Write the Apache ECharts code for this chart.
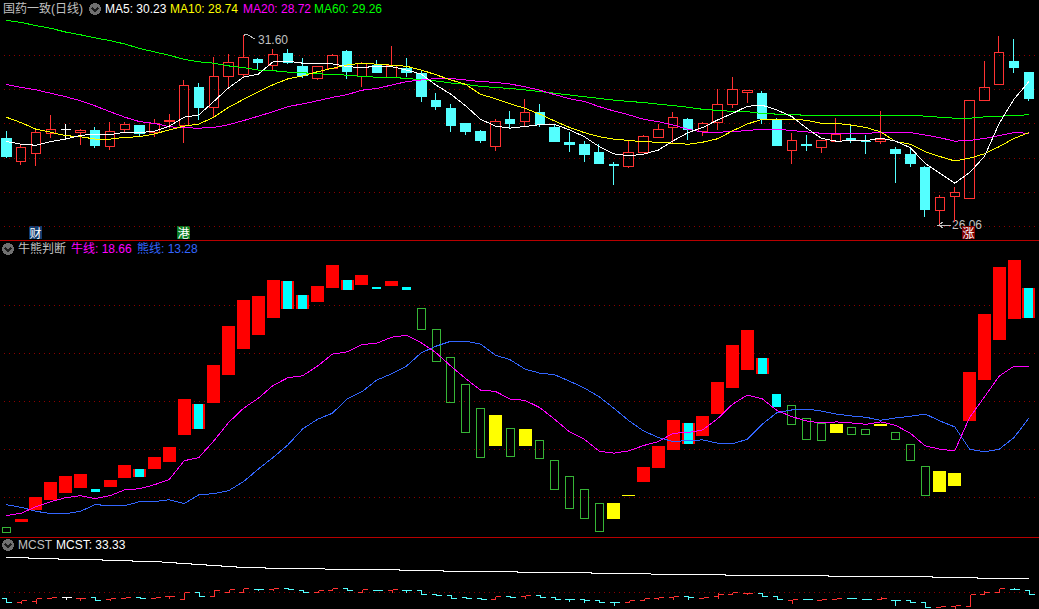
<!DOCTYPE html>
<html>
<head>
<meta charset="utf-8">
<title>国药一致</title>
<style>
html, body { margin: 0; padding: 0; background: #000; overflow: hidden; }
#chart { width: 1039px; height: 609px; }
/* 行情软件的线没有抗锯齿 */
#chart svg path { shape-rendering: crispEdges; }
</style>
<script src="https://cdn.jsdelivr.net/npm/echarts@6/dist/echarts.min.js"></script>
</head>
<body>
<div id="chart"></div>
<script>
// 日线 open / close / low / high
var candleOpen = [28.58,27.89,28.13,28.70,28.82,28.73,28.81,28.33,28.83,28.95,28.75,29.06,28.95,30.06,29.47,30.38,30.44,30.89,30.70,31.04,30.66,30.32,30.61,31.10,30.39,30.70,30.36,30.60,30.47,29.69,29.43,29.02,28.76,28.33,29.11,29.06,29.34,28.90,28.44,28.38,28.17,27.82,27.74,28.15,28.59,28.90,29.11,28.76,29.04,29.56,29.90,29.87,29.11,28.21,28.38,28.30,28.49,28.58,28.49,28.48,28.26,28.09,27.73,26.46,26.87,26.81,29.67,30.14,30.83,30.51];
var candleClose = [28.04,28.31,28.75,28.84,28.82,28.79,28.35,28.78,28.98,28.72,29.00,29.10,30.11,29.47,30.39,30.80,30.94,30.78,31.03,30.79,30.40,30.67,31.00,30.52,30.77,30.49,30.70,30.51,29.79,29.49,28.96,28.76,28.52,29.07,29.02,29.33,28.99,28.49,28.38,28.09,27.85,27.77,28.16,28.63,28.84,29.19,28.82,29.01,29.57,30.01,29.97,29.14,28.35,28.51,28.35,28.51,28.69,28.55,28.47,28.55,28.12,27.85,26.48,26.85,26.99,29.68,30.06,31.09,30.63,29.75];
var candleLow = [28.01,27.79,27.77,28.58,28.52,28.38,28.30,28.23,28.77,28.64,28.61,28.87,28.45,29.11,29.20,30.07,30.33,30.57,30.57,30.76,30.33,30.28,30.59,30.31,30.07,30.47,30.36,30.37,29.62,29.40,28.76,28.67,28.44,28.20,28.85,28.93,28.90,28.47,28.17,27.88,27.82,27.21,27.71,28.13,28.59,28.43,28.52,28.64,28.82,29.46,29.61,28.99,28.35,27.82,28.20,28.14,28.49,28.44,28.12,28.42,27.27,27.73,26.27,26.06,26.14,26.81,29.67,30.14,30.48,29.66];
var candleHigh = [28.79,28.38,28.82,29.25,28.99,28.85,28.90,29.05,29.06,28.95,29.13,29.28,30.28,30.18,30.95,31.03,31.60,30.93,31.18,31.18,30.91,30.69,31.04,31.15,30.81,30.86,31.27,30.92,30.55,29.90,29.58,29.02,28.82,29.14,29.37,29.72,29.58,28.99,28.76,28.49,28.41,27.88,28.51,28.67,28.98,29.34,29.17,29.05,30.02,30.37,29.97,29.96,29.17,28.73,28.67,28.51,29.17,28.96,28.67,29.37,28.32,28.30,27.77,26.92,27.15,29.68,30.83,31.57,31.48,30.51];

// 均线
var ma5 = [28.48,28.40,28.37,28.48,28.55,28.66,28.69,28.68,28.75,28.74,28.78,28.93,29.19,29.26,29.65,30.05,30.36,30.45,30.81,30.83,30.77,30.75,30.75,30.67,30.64,30.68,30.67,30.57,30.45,30.13,29.86,29.52,29.13,28.93,28.87,28.92,28.97,28.98,28.82,28.62,28.33,28.12,28.06,28.11,28.23,28.50,28.74,28.89,29.11,29.30,29.51,29.54,29.40,29.21,28.87,28.57,28.49,28.50,28.50,28.58,28.49,28.30,27.84,27.55,27.26,27.57,28.04,29.01,29.72,30.23];
var ma10 = [29.19,29.03,28.84,28.75,28.65,28.62,28.55,28.55,28.60,28.62,28.70,28.82,28.93,28.99,29.19,29.48,29.71,29.93,30.14,30.31,30.40,30.52,30.62,30.72,30.77,30.74,30.71,30.68,30.57,30.43,30.28,30.15,29.86,29.73,29.58,29.45,29.28,29.08,28.89,28.74,28.62,28.55,28.51,28.47,28.46,28.43,28.40,28.46,28.56,28.79,28.99,29.13,29.13,29.13,29.10,29.01,29.01,28.96,28.89,28.76,28.48,28.40,28.18,28.04,27.91,27.99,28.12,28.33,28.57,28.74];
var ma20 = [30.15,30.06,29.99,29.89,29.79,29.67,29.52,29.35,29.19,29.06,29.01,28.91,28.88,28.87,28.89,28.97,29.09,29.22,29.35,29.50,29.58,29.67,29.77,29.85,29.98,30.03,30.13,30.23,30.28,30.32,30.32,30.28,30.23,30.21,30.16,30.08,29.98,29.85,29.73,29.65,29.50,29.37,29.26,29.13,29.06,28.96,28.84,28.75,28.75,28.77,28.80,28.84,28.84,28.80,28.76,28.72,28.72,28.72,28.72,28.74,28.74,28.74,28.67,28.59,28.49,28.51,28.57,28.65,28.74,28.72];
var ma60 = [32.02,31.96,31.87,31.79,31.68,31.60,31.51,31.43,31.33,31.20,31.10,31.00,30.88,30.81,30.77,30.69,30.64,30.57,30.55,30.51,30.49,30.46,30.44,30.42,30.38,30.36,30.36,30.32,30.29,30.25,30.19,30.15,30.09,30.06,30.03,29.99,29.94,29.89,29.84,29.79,29.74,29.69,29.65,29.62,29.57,29.53,29.48,29.42,29.39,29.36,29.35,29.30,29.28,29.26,29.25,29.25,29.25,29.25,29.25,29.25,29.25,29.25,29.22,29.19,29.16,29.16,29.20,29.22,29.24,29.26];

// 牛熊判断: 柱子上下沿, 种类 r红 m红底青芯 c青 y黄 g绿空心
var boxTop = [2.00,2.76,5.03,6.59,7.21,7.42,5.87,6.80,8.35,7.94,9.18,10.22,15.29,14.78,18.82,22.86,25.55,25.97,27.63,27.52,26.07,27.00,29.18,27.63,28.14,26.90,27.52,26.90,24.69,22.51,19.61,16.81,14.33,13.64,12.25,12.18,11.01,8.94,7.27,5.93,4.48,4.41,5.24,8.14,10.42,13.12,12.81,13.53,17.05,20.89,22.44,19.54,15.81,14.64,13.29,12.77,12.70,12.36,12.15,12.70,11.84,10.60,8.32,7.73,7.52,18.09,24.10,28.97,29.70,26.80];
var boxBottom = [1.41,2.45,3.69,4.73,5.45,5.97,5.55,6.07,7.00,7.11,7.94,8.66,11.56,12.19,14.88,17.78,20.48,21.93,23.69,24.62,24.62,25.35,26.80,26.59,27.11,26.69,27.00,26.59,22.58,19.16,14.91,11.81,9.21,10.42,9.32,10.42,9.11,5.90,3.93,2.89,1.55,2.76,5.17,6.59,8.04,10.01,10.63,11.46,13.74,16.43,18.30,17.88,14.47,12.63,11.08,10.98,11.77,11.60,11.60,12.50,11.08,8.90,5.28,5.55,6.18,13.01,17.26,21.41,23.58,23.69];
var boxKind = ['g','r','r','r','r','r','c','r','r','m','r','r','r','m','r','r','r','r','r','m','m','r','r','m','r','c','r','c','g','g','g','g','g','y','g','y','g','g','g','g','g','y','y','r','r','r','m','r','r','r','r','m','c','g','g','g','y','g','g','y','g','g','g','y','y','r','r','r','r','m'];
var bullLine = [3.14,3.38,4.07,4.59,5.00,5.21,4.90,5.21,5.83,5.93,6.35,6.90,8.84,9.18,10.91,12.81,14.29,15.33,16.67,17.47,17.68,18.68,19.92,20.16,20.92,21.06,21.68,21.89,21.10,20.06,18.68,17.37,16.19,16.05,15.26,15.12,14.36,13.15,11.84,11.08,9.84,9.63,9.87,10.42,10.84,11.70,11.77,12.05,13.22,14.71,15.67,15.29,14.07,13.43,12.98,12.77,12.88,12.77,12.63,12.88,12.53,11.70,10.39,10.04,9.87,13.33,15.47,17.64,18.68,18.66];
var bearLine = [4.28,4.00,3.59,3.34,3.34,3.59,4.28,4.17,4.17,4.59,4.59,4.79,4.38,5.31,5.42,5.73,6.66,7.97,9.18,10.49,12.15,13.15,13.78,15.26,16.02,17.23,17.88,18.68,20.06,20.75,21.27,21.27,20.96,19.82,19.34,18.37,17.95,17.78,17.12,16.40,15.50,14.29,13.01,11.94,11.25,10.84,10.94,11.01,10.67,10.60,11.08,12.63,13.84,14.12,14.22,14.01,13.70,13.50,13.36,13.05,13.29,13.46,13.70,12.98,12.36,10.04,9.77,10.04,11.25,13.28];

// MCST 和底部的开收短线
var mcstLine = [38.22,38.22,37.98,37.98,37.75,37.75,37.75,37.51,37.51,37.28,37.28,37.04,36.81,36.57,36.34,36.10,35.87,35.87,35.63,35.63,35.63,35.63,35.40,35.40,35.40,35.40,35.40,35.16,35.16,35.16,34.93,34.93,34.93,34.93,34.93,34.69,34.69,34.69,34.69,34.69,34.46,34.46,34.46,34.46,34.22,34.22,34.22,34.22,34.22,33.99,33.99,33.99,33.99,33.99,33.99,33.99,33.75,33.75,33.75,33.75,33.75,33.75,33.75,33.51,33.51,33.51,33.33,33.33,33.33,33.33];
var tickOpen = [28.58,27.80,27.96,28.74,28.82,28.58,28.82,28.35,28.74,28.82,28.58,29.05,28.43,29.99,29.13,30.07,30.15,30.70,30.70,30.93,30.47,30.15,30.47,30.93,30.15,30.47,30.47,30.47,30.47,29.52,29.29,28.82,28.58,28.35,29.05,29.05,29.29,28.82,28.35,28.35,28.11,27.64,27.64,28.11,28.58,28.82,29.05,28.58,29.05,29.52,29.76,29.76,29.05,28.11,28.35,28.11,28.35,28.58,28.35,28.35,28.11,28.11,27.64,26.47,26.70,26.70,29.52,29.99,30.70,30.47];
var tickClose = [27.80,28.19,28.58,28.97,28.82,28.58,28.27,28.66,28.82,28.58,28.82,29.05,29.99,29.13,30.47,30.70,31.09,30.70,30.93,30.70,30.15,30.47,30.93,30.47,30.70,30.47,30.78,30.47,29.60,29.29,28.58,28.58,28.35,29.05,28.82,29.37,28.82,28.35,28.35,28.11,27.64,27.64,28.11,28.58,28.82,29.05,28.82,28.82,29.52,29.99,29.76,29.05,28.35,28.35,28.35,28.35,28.58,28.58,28.35,28.58,28.11,27.80,26.47,26.70,26.94,29.52,29.99,31.09,30.70,29.68];
var tickStemLow = {1:27.57,2:27.57,4:28.35,5:28.27,7:28.19,11:28.66,17:30.47,18:30.47,26:30.15,27:30.15,35:28.66,38:28.03,39:27.80,41:27.10,44:28.35,45:28.50,46:28.35,48:28.58,50:29.52,53:27.57,60:27.10,64:26.08};
var tickStemHigh = {14:30.70,48:29.99,59:29.05,66:30.47,68:31.17};

var COLOR_UP = '#ff3232', COLOR_DOWN = '#54ffff', COLOR_DOJI = '#ffffff';
var GRID_LINE = { color: '#8b0000', type: [1, 4], width: 1 };
var FONT = '12px "Liberation Sans", "Noto Sans CJK SC", sans-serif';

// 多一个空类目, 让虚线一直画到右边
var categories = candleOpen.map(function(v, i) { return i; }).concat([70]);

function candleColor(i) {
	if (candleClose[i] > candleOpen[i]) return COLOR_UP;
	if (candleClose[i] < candleOpen[i]) return COLOR_DOWN;
	return COLOR_DOJI;
}

function maSeries(name, data, color) {
	return { name: name, type: 'line', data: data, xAxisIndex: 0, yAxisIndex: 0, symbol: 'none', clip: false, silent: true,
		lineStyle: { color: color, width: 1 } };
}

function renderBox(params, api) {
	var kind = boxKind[params.dataIndex];
	var top = api.coord([api.value(0), api.value(1)]);
	var bottom = api.coord([api.value(0), api.value(2)]);
	var y = Math.round(top[1]);
	var h = Math.max(1, Math.round(bottom[1]) - y);
	var cx = top[0];
	var red = { type: 'rect', shape: { x: Math.round(cx - 6.5), y: y, width: 13, height: h }, style: { fill: '#ff0000' } };
	var inner = { type: 'rect', shape: { x: Math.round(cx - 4.5), y: y, width: 9, height: h }, style: { fill: '#00ffff' } };
	if (kind === 'r') return red;
	if (kind === 'c') return inner;
	if (kind === 'm') return { type: 'group', children: [red, inner] };
	if (kind === 'y') return { type: 'rect', shape: red.shape, style: { fill: '#ffff00' } };
	return { type: 'rect', shape: { x: Math.round(cx - 4.5) + 0.5, y: y + 0.5, width: 8, height: h }, style: { fill: 'none', stroke: '#36b536', lineWidth: 1 } };
}

function renderTick(params, api) {
	var i = params.dataIndex;
	var open = api.coord([api.value(0), api.value(1)]);
	var close = api.coord([api.value(0), api.value(2)]);
	var cx = Math.round(open[0]) + 0.5;
	var yo = Math.round(open[1]) + 0.5, yc = Math.round(close[1]) + 0.5;
	var lo = tickStemLow[i] != null ? Math.round(api.coord([i, tickStemLow[i]])[1]) + 0.5 : Math.max(yo, yc);
	var hi = tickStemHigh[i] != null ? Math.round(api.coord([i, tickStemHigh[i]])[1]) + 0.5 : Math.min(yo, yc);
	var style = { stroke: candleColor(i), lineWidth: 1, fill: 'none' };
	return { type: 'group', children: [
		{ type: 'line', shape: { x1: cx - 5, y1: yo, x2: cx, y2: yo }, style: style },
		{ type: 'line', shape: { x1: cx, y1: yc, x2: cx + 5, y2: yc }, style: style },
		{ type: 'line', shape: { x1: cx, y1: hi, x2: cx, y2: lo }, style: style }
	] };
}

function xAxis(gridIndex) {
	return { type: 'category', gridIndex: gridIndex, data: categories, boundaryGap: true,
		axisLine: { show: false }, axisTick: { show: false }, axisLabel: { show: false }, splitLine: { show: false } };
}

function yAxis(gridIndex, min, max, interval) {
	return { type: 'value', gridIndex: gridIndex, min: min, max: max, interval: interval,
		axisLine: { show: false }, axisTick: { show: false }, axisLabel: { show: false },
		splitLine: { show: true, showMinLine: gridIndex !== 0 ? false : true, showMaxLine: false, lineStyle: GRID_LINE } };
}

function label(x, y, text, color) {
	return { type: 'text', silent: true, x: x, y: y, style: { text: text, fill: color, font: FONT, textVerticalAlign: 'middle' } };
}

function icon(x, y) {
	return { type: 'group', silent: true, children: [
		{ type: 'circle', shape: { cx: x, cy: y, r: 6 }, style: { fill: '#707070' } },
		{ type: 'polyline', shape: { points: [[x - 3, y - 1], [x, y + 2], [x + 3, y - 1]] }, style: { stroke: '#1c1c1c', lineWidth: 1.5, fill: 'none' } }
	] };
}

function badge(x, text, color) {
	return { type: 'group', silent: true, children: [
		{ type: 'rect', shape: { x: x, y: 226, width: 13, height: 13 }, style: { fill: color } },
		{ type: 'text', x: x + 0.5, y: 226.5, style: { text: text, fill: '#fff', font: '12px "Noto Sans CJK SC"' } }
	] };
}

function separator(y) {
	return { type: 'rect', silent: true, shape: { x: 0, y: y, width: 1039, height: 1 }, style: { fill: '#b80000' } };
}

function last(arr) { return arr[arr.length - 1].toFixed(2); }

var GRAY = '#c0c0c0';

// v6 默认会把 grid 收进画布, 这里要让它伸出去
var option = {
	backgroundColor: '#000',
	animation: false,
	grid: [
		{ left: -1.1, width: 1052.2, top: 21.1, height: 205.2, outerBoundsMode: 'none' },
		{ left: -1.1, width: 1052.2, top: 257.2, height: 288.6, outerBoundsMode: 'none' },
		{ left: -1.1, width: 1052.2, top: 549.75, height: 85.1, outerBoundsMode: 'none' }
	],
	xAxis: [xAxis(0), xAxis(1), xAxis(2)],
	yAxis: [yAxis(0, 26, 32, 1), yAxis(1, 0, 30, 5), yAxis(2, 20, 40, 10)],
	series: [
		{ name: 'K线', type: 'candlestick', xAxisIndex: 0, yAxisIndex: 0, barWidth: 10, silent: true,
			data: candleOpen.map(function(v, i) { return [v, candleClose[i], candleLow[i], candleHigh[i]]; }),
			itemStyle: { color: 'transparent', color0: COLOR_DOWN, borderColor: COLOR_UP, borderColor0: COLOR_DOWN, borderColorDoji: COLOR_DOJI, borderWidth: 1 } },
		maSeries('MA60', ma60, '#00ff00'),
		maSeries('MA20', ma20, '#ff00ff'),
		maSeries('MA10', ma10, '#ffff00'),
		maSeries('MA5', ma5, '#ffffff'),
		{ name: '柱', type: 'custom', xAxisIndex: 1, yAxisIndex: 1, renderItem: renderBox, silent: true,
			encode: { x: 0, y: [1, 2] },
			data: boxTop.map(function(v, i) { return [i, v, boxBottom[i]]; }) },
		{ name: '熊线', type: 'line', xAxisIndex: 1, yAxisIndex: 1, data: bearLine, symbol: 'none', silent: true, lineStyle: { color: '#3366ff', width: 1 } },
		{ name: '牛线', type: 'line', xAxisIndex: 1, yAxisIndex: 1, data: bullLine, symbol: 'none', silent: true, lineStyle: { color: '#ff00ff', width: 1 } },
		{ name: 'MCST', type: 'line', xAxisIndex: 2, yAxisIndex: 2, data: mcstLine, step: 'middle', symbol: 'none', silent: true, lineStyle: { color: '#ffffff', width: 1 } },
		{ name: '开收', type: 'custom', xAxisIndex: 2, yAxisIndex: 2, renderItem: renderTick, silent: true,
			encode: { x: 0, y: [1, 2] },
			data: tickOpen.map(function(v, i) { return [i, v, tickClose[i]]; }) }
	],
	graphic: [
		separator(240), separator(537),
		label(3, 9, '国药一致(日线)', GRAY), icon(95, 9),
		label(105, 9, 'MA5: ' + last(ma5), '#ffffff'),
		label(170, 9, 'MA10: ' + last(ma10), '#ffff00'),
		label(243, 9, 'MA20: ' + last(ma20), '#ff00ff'),
		label(314, 9, 'MA60: ' + last(ma60), '#00ff00'),
		icon(8, 249),
		label(18, 249, '牛熊判断', GRAY),
		label(71, 249, '牛线: ' + last(bullLine), '#ff00ff'),
		label(137, 249, '熊线: ' + last(bearLine), '#3366ff'),
		icon(8, 545),
		label(18, 545, 'MCST', GRAY),
		label(56, 545, 'MCST: ' + last(mcstLine), '#ffffff'),
		label(258, 39.5, '31.60', GRAY),
		{ type: 'polyline', silent: true, shape: { points: [[244, 36], [244, 34], [248, 35], [255, 39]] }, style: { stroke: GRAY, fill: 'none', lineWidth: 1 } },
		label(952, 225, '26.06', GRAY),
		{ type: 'polyline', silent: true, shape: { points: [[943, 222], [939, 225], [951, 225], [939, 225], [943, 228]] }, style: { stroke: GRAY, fill: 'none', lineWidth: 1 } },
		badge(29, '财', '#103c6e'),
		badge(177, '港', '#0a7a20'),
		badge(962, '涨', '#800000')
	]
};

var myChart = echarts.init(document.getElementById('chart'), null, { renderer: 'svg' });
myChart.setOption(option);
</script>
</body>
</html>
